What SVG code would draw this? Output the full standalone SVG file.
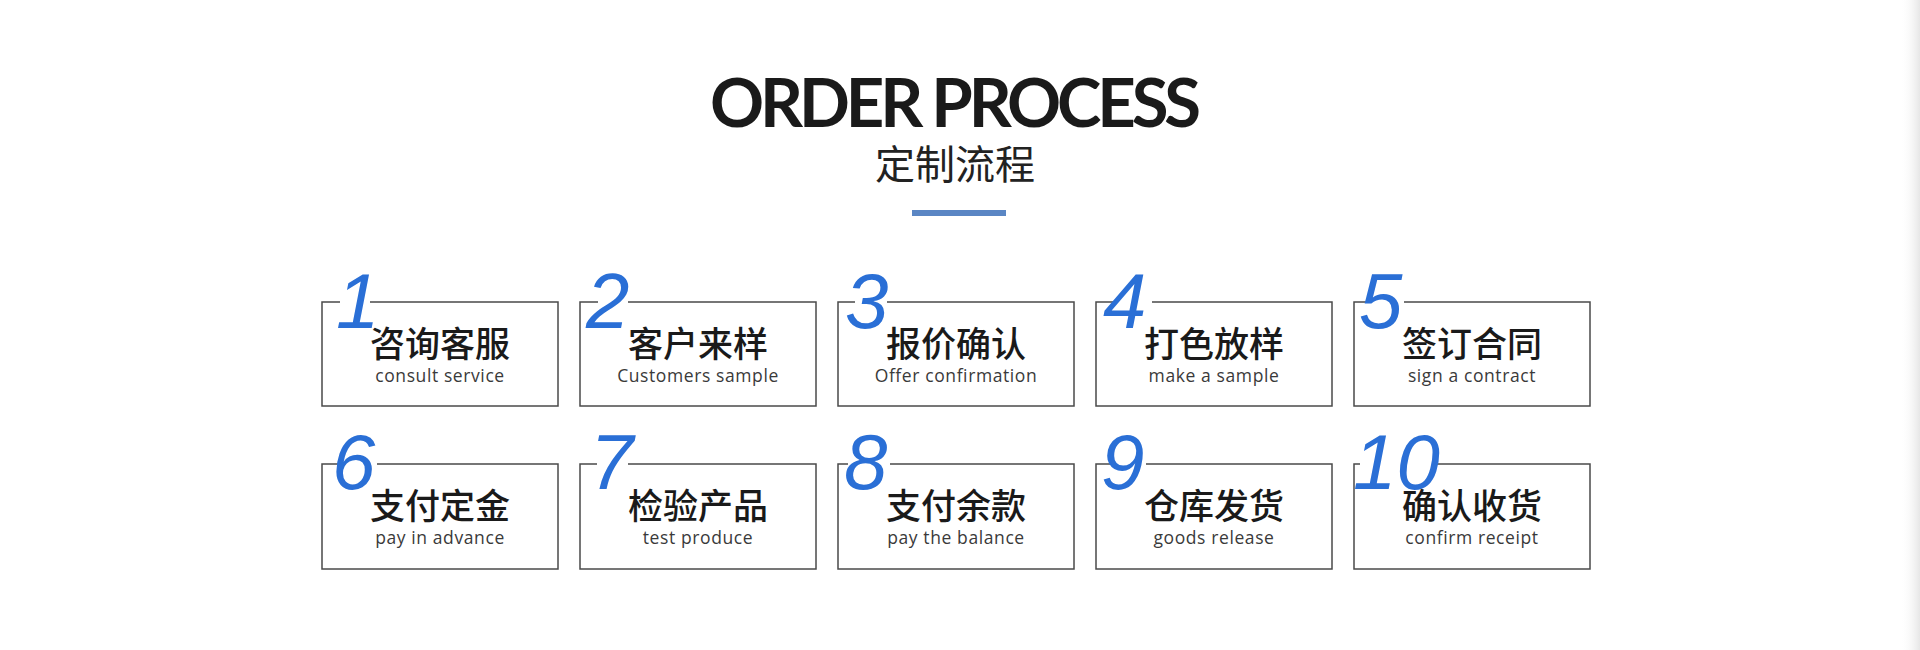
<svg xmlns="http://www.w3.org/2000/svg" width="1920" height="650" viewBox="0 0 1920 650">
<defs>
<linearGradient id="edge" x1="0" y1="0" x2="1" y2="0">
<stop offset="0" stop-color="#ffffff" stop-opacity="0"/>
<stop offset="1" stop-color="#e6e6e6"/>
</linearGradient>
<style>
.box{fill:#ffffff;stroke:#4a4a4a;stroke-width:1.5}
.gap{fill:#ffffff}
.num{font-family:"Liberation Sans",Arial,sans-serif;font-style:italic;font-size:78px;fill:#2a6fd6}
.cn{font-family:"Noto Sans CJK SC",sans-serif;font-size:35px;font-weight:500;fill:#1a1a1a;text-anchor:middle}
.en{font-family:"Open Sans",sans-serif;font-size:17.5px;letter-spacing:0.6px;fill:#3a3a3a;text-anchor:middle}
</style>
</defs>
<rect x="0" y="0" width="1920" height="650" fill="#ffffff"/>
<rect x="1900" y="0" width="20" height="650" fill="url(#edge)"/>
<g id="title">
<text x="955.5" y="127" font-family="Lato,'Liberation Sans',sans-serif" font-weight="700" font-size="67" fill="#1a1a1a" text-anchor="middle" textLength="491" lengthAdjust="spacing">ORDER PROCESS</text>
<text x="955" y="179" font-family="'Noto Sans CJK SC',sans-serif" font-size="40" fill="#222222" text-anchor="middle">定制流程</text>
<rect x="912" y="210" width="94" height="6" fill="#5a86c4"/>
</g>
<g id="step1">
<rect class="box" x="322" y="302" width="236" height="104"/>
<rect class="gap" x="340" y="298" width="30" height="8"/>
<text class="num" x="336" y="328">1</text>
<text class="cn" x="440" y="357">咨询客服</text>
<text class="en" x="440" y="382">consult service</text>
</g>
<g id="step2">
<rect class="box" x="580" y="302" width="236" height="104"/>
<rect class="gap" x="598" y="298" width="30" height="8"/>
<text class="num" x="586" y="328">2</text>
<text class="cn" x="698" y="357">客户来样</text>
<text class="en" x="698" y="382">Customers sample</text>
</g>
<g id="step3">
<rect class="box" x="838" y="302" width="236" height="104"/>
<rect class="gap" x="855" y="298" width="32" height="8"/>
<text class="num" x="845" y="328">3</text>
<text class="cn" x="956" y="357">报价确认</text>
<text class="en" x="956" y="382">Offer confirmation</text>
</g>
<g id="step4">
<rect class="box" x="1096" y="302" width="236" height="104"/>
<rect class="gap" x="1113" y="298" width="39" height="8"/>
<text class="num" x="1103" y="328">4</text>
<text class="cn" x="1214" y="357">打色放样</text>
<text class="en" x="1214" y="382">make a sample</text>
</g>
<g id="step5">
<rect class="box" x="1354" y="302" width="236" height="104"/>
<rect class="gap" x="1368" y="298" width="36" height="8"/>
<text class="num" x="1359" y="328">5</text>
<text class="cn" x="1472" y="357">签订合同</text>
<text class="en" x="1472" y="382">sign a contract</text>
</g>
<g id="step6">
<rect class="box" x="322" y="464" width="236" height="105"/>
<rect class="gap" x="338" y="460" width="39" height="8"/>
<text class="num" x="332" y="489">6</text>
<text class="cn" x="440" y="519">支付定金</text>
<text class="en" x="440" y="544">pay in advance</text>
</g>
<g id="step7">
<rect class="box" x="580" y="464" width="236" height="105"/>
<rect class="gap" x="597" y="460" width="31" height="8"/>
<text class="num" x="590" y="489">7</text>
<text class="cn" x="698" y="519">检验产品</text>
<text class="en" x="698" y="544">test produce</text>
</g>
<g id="step8">
<rect class="box" x="838" y="464" width="236" height="105"/>
<rect class="gap" x="848" y="460" width="42" height="8"/>
<text class="num" x="844" y="489">8</text>
<text class="cn" x="956" y="519">支付余款</text>
<text class="en" x="956" y="544">pay the balance</text>
</g>
<g id="step9">
<rect class="box" x="1096" y="464" width="236" height="105"/>
<rect class="gap" x="1116" y="460" width="30" height="8"/>
<text class="num" x="1101" y="489">9</text>
<text class="cn" x="1214" y="519">仓库发货</text>
<text class="en" x="1214" y="544">goods release</text>
</g>
<g id="step10">
<rect class="box" x="1354" y="464" width="236" height="105"/>
<rect class="gap" x="1360" y="460" width="72" height="8"/>
<text class="num" x="1353" y="489">10</text>
<text class="cn" x="1472" y="519">确认收货</text>
<text class="en" x="1472" y="544">confirm receipt</text>
</g>
</svg>
